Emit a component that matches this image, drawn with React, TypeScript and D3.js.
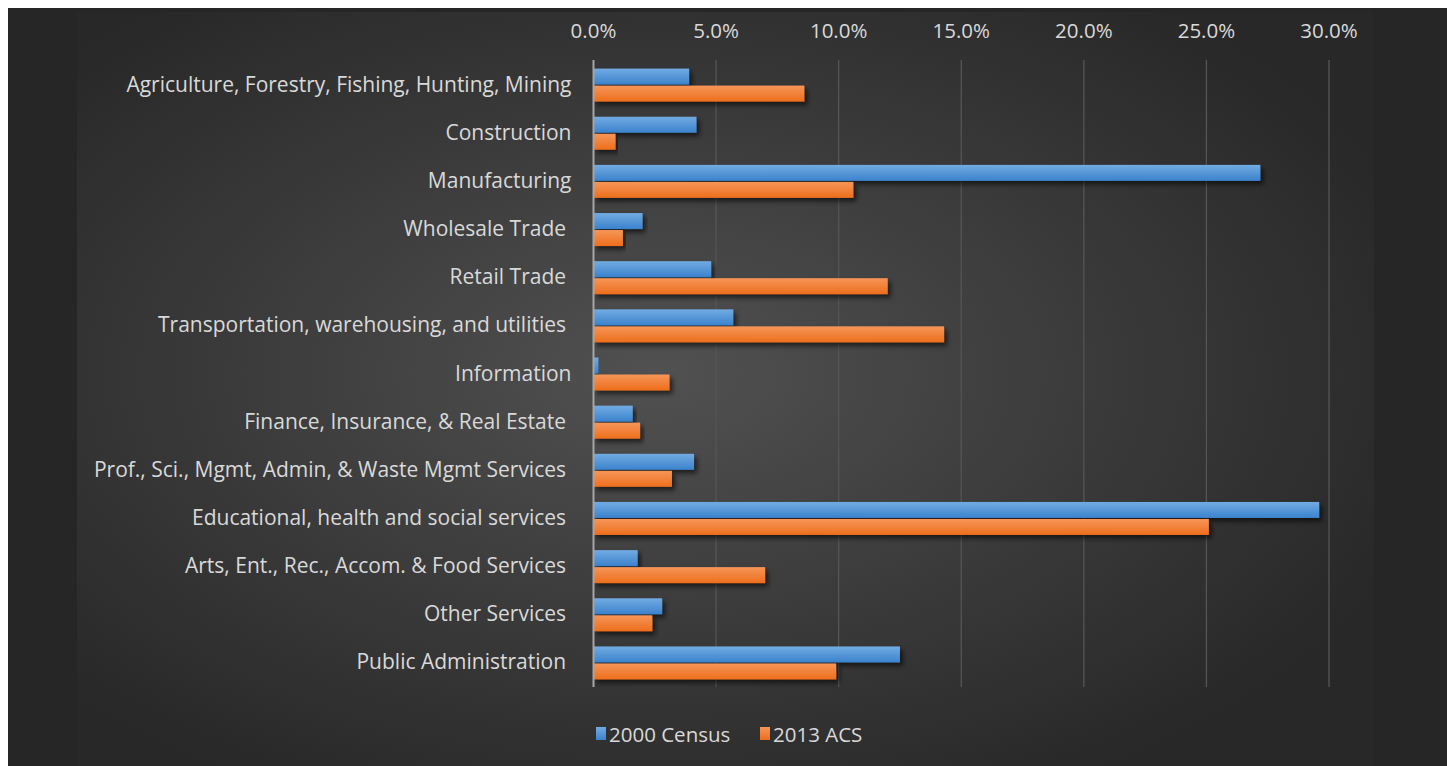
import React from "react";
import * as d3 from "d3";

const categories = [
  "Agriculture, Forestry, Fishing, Hunting, Mining",
  "Construction",
  "Manufacturing",
  "Wholesale Trade ",
  "Retail Trade ",
  "Transportation, warehousing, and utilities ",
  "Information",
  "Finance, Insurance, & Real Estate ",
  "Prof., Sci., Mgmt, Admin, & Waste Mgmt Services ",
  "Educational, health and social services ",
  "Arts, Ent., Rec., Accom. & Food Services ",
  "Other Services ",
  "Public Administration ",
];

const census2000 = [0.039, 0.042, 0.272, 0.02, 0.048, 0.057, 0.002, 0.016, 0.041, 0.296, 0.018, 0.028, 0.125];
const acs2013 = [0.086, 0.009, 0.106, 0.012, 0.12, 0.143, 0.031, 0.019, 0.032, 0.251, 0.07, 0.024, 0.099];

const seriesNames = ["2000 Census", "2013 ACS"];
const xTicks = [0, 0.05, 0.1, 0.15, 0.2, 0.25, 0.3];

const W = 1439;
const H = 758;
const FONT = "'Open Sans', 'Noto Sans', sans-serif";

export default function App() {
  const x = d3.scaleLinear().domain([0, 0.3]).range([585.5, 1321]);
  const y = d3
    .scaleBand<string>()
    .domain(categories)
    .range([53, 679])
    .paddingInner(0.315)
    .paddingOuter(0.1575);
  const ySub = d3
    .scaleBand<string>()
    .domain(seriesNames)
    .range([0, y.bandwidth()])
    .paddingInner(0.06);
  const fmt = d3.format(".1%");
  const series = [census2000, acs2013];
  const grads = ["gBlue", "gOrange"];
  const [gTop, gBot] = [y.range()[0] - 1, y.range()[1]];

  return (
    <div style={{ position: "absolute", left: 8, top: 8 }}>
      <svg width={W} height={H} style={{ display: "block" }}>
        <defs>
          <radialGradient id="bg" cx="45%" cy="48%" r="62%">
            <stop offset="0%" stopColor="#515151" />
            <stop offset="55%" stopColor="#3a3a3a" />
            <stop offset="100%" stopColor="#282828" />
          </radialGradient>
          <linearGradient id="gBlue" x1="0" y1="0" x2="0" y2="1">
            <stop offset="0%" stopColor="#72abe2" />
            <stop offset="100%" stopColor="#3b83cd" />
          </linearGradient>
          <linearGradient id="gOrange" x1="0" y1="0" x2="0" y2="1">
            <stop offset="0%" stopColor="#f69659" />
            <stop offset="100%" stopColor="#ed6e1c" />
          </linearGradient>
          <filter id="shadow" x="-5%" y="-30%" width="115%" height="190%">
            <feDropShadow dx="3" dy="3.5" stdDeviation="2.5" floodColor="#000" floodOpacity="0.6" />
          </filter>
        </defs>
        <rect x={-1} y={0} width={W + 1} height={H} fill="#262626" />
        <rect x={69} y={4} width={1297} height={H - 4} fill="url(#bg)" />

        {xTicks.map((t) => (
          <g key={t}>
            {t > 0 && (
              <line x1={x(t)} x2={x(t)} y1={gTop} y2={gBot} stroke="#555555" strokeWidth={1.3} />
            )}
            <text
              x={x(t)}
              y={22}
              textAnchor="middle"
              dominantBaseline="central"
              fill="#d9d9d9"
              fontFamily={FONT}
              fontSize={20.5}
            >
              {fmt(t)}
            </text>
          </g>
        ))}

        {categories.map((c, i) => (
          <g key={c}>
            <text
              x={x(0) - 22}
              y={(y(c) ?? 0) + y.bandwidth() / 2 - 1.5}
              textAnchor="end"
              dominantBaseline="central"
              fill="#d9d9d9"
              fontFamily={FONT}
              fontSize={21}
              style={{ whiteSpace: "pre" }}
            >
              {c}
            </text>
            {series.map((s, k) => (
              <rect
                key={k}
                x={x(0)}
                y={(y(c) ?? 0) + (ySub(seriesNames[k]) ?? 0)}
                width={x(s[i]) - x(0)}
                height={ySub.bandwidth()}
                fill={`url(#${grads[k]})`}
                filter="url(#shadow)"
              />
            ))}
          </g>
        ))}

        <line x1={x(0)} x2={x(0)} y1={gTop} y2={gBot} stroke="#a6a6a6" strokeWidth={2} />

        {seriesNames.map((n, k) => {
          const lx = [588, 752][k];
          return (
            <g key={n}>
              <rect x={lx} y={719} width={10} height={13} fill={`url(#${grads[k]})`} />
              <text
                x={lx + 13}
                y={725.5}
                dominantBaseline="central"
                fill="#d9d9d9"
                fontFamily={FONT}
                fontSize={20.5}
              >
                {n}
              </text>
            </g>
          );
        })}
      </svg>
    </div>
  );
}
